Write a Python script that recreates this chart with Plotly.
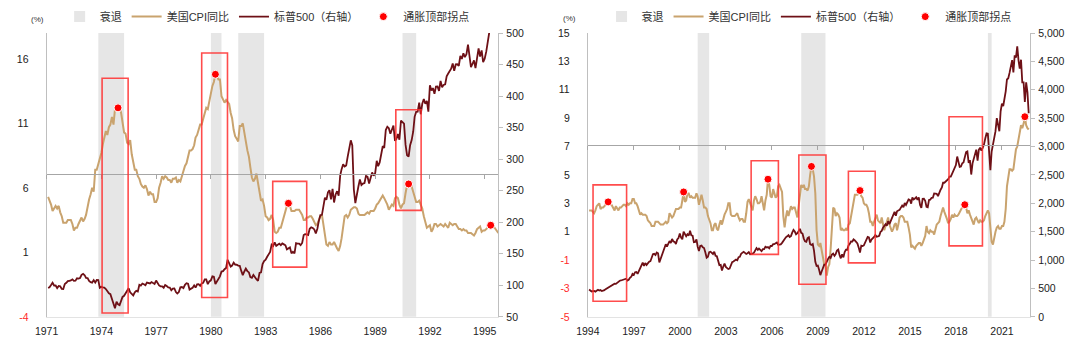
import pandas as pd
import plotly.graph_objects as go

# ---------------- DATA ----------------
# Left panel: monthly, Jan 1971 - Oct 1995
cpi_left = [
    5.3, 5.0, 4.7, 4.2, 4.4, 4.6, 4.4, 4.6, 4.1, 3.8, 3.3, 3.3,        # 1971
    3.3, 3.5, 3.5, 3.5, 3.2, 2.7, 2.9, 2.9, 3.2, 3.4, 3.7, 3.4,        # 1972
    3.6, 3.9, 4.6, 5.1, 5.5, 6.0, 5.7, 7.4, 7.4, 7.8, 8.3, 8.7,        # 1973
    9.4, 10.0, 10.4, 10.1, 10.7, 10.9, 11.5, 10.9, 12.1, 12.1, 12.2, 12.3,  # 1974
    11.8, 11.2, 10.3, 10.2, 9.5, 9.4, 9.7, 8.6, 7.9, 7.4, 7.4, 6.9,   # 1975
    6.7, 6.3, 6.1, 6.0, 6.2, 5.9, 5.4, 5.7, 5.5, 5.5, 4.9, 4.9,       # 1976
    5.2, 6.0, 6.4, 6.9, 6.7, 6.9, 6.8, 6.6, 6.6, 6.4, 6.7, 6.7,       # 1977
    6.8, 6.4, 6.6, 6.5, 6.9, 7.4, 7.7, 7.9, 8.3, 8.9, 8.9, 9.0,       # 1978
    9.3, 9.9, 10.1, 10.5, 10.9, 10.9, 11.3, 11.8, 12.2, 12.1, 12.6, 13.3,  # 1979
    13.9, 14.2, 14.8, 14.7, 14.4, 14.4, 13.1, 12.9, 12.6, 12.8, 12.6, 12.5,  # 1980
    11.8, 11.4, 10.5, 10.0, 9.8, 9.6, 10.8, 10.8, 11.0, 10.1, 9.6, 8.9,  # 1981
    8.4, 7.6, 6.8, 6.5, 6.7, 7.1, 6.4, 5.9, 5.0, 5.1, 4.6, 3.8,       # 1982
    3.7, 3.5, 3.6, 3.9, 3.5, 2.6, 2.5, 2.6, 2.9, 2.9, 3.3, 3.8,       # 1983
    4.2, 4.6, 4.8, 4.6, 4.2, 4.2, 4.2, 4.3, 4.3, 4.3, 4.1, 3.9,       # 1984
    3.5, 3.5, 3.7, 3.7, 3.8, 3.8, 3.6, 3.3, 3.1, 3.2, 3.5, 3.8,       # 1985
    3.9, 3.1, 2.2, 1.6, 1.5, 1.8, 1.6, 1.6, 1.8, 1.5, 1.3, 1.1,       # 1986
    1.5, 2.1, 3.0, 3.8, 3.9, 3.7, 3.9, 4.3, 4.4, 4.5, 4.5, 4.4,       # 1987
    4.0, 3.9, 3.9, 3.9, 3.9, 4.0, 4.1, 4.0, 4.2, 4.2, 4.2, 4.4,       # 1988
    4.7, 4.8, 5.0, 5.1, 5.4, 5.2, 5.0, 4.7, 4.3, 4.5, 4.7, 4.6,       # 1989
    5.2, 5.3, 5.2, 4.7, 4.4, 4.7, 4.8, 5.6, 6.2, 6.3, 6.3, 6.1,       # 1990
    5.7, 5.3, 4.9, 4.9, 5.0, 4.7, 4.4, 3.8, 3.4, 2.9, 3.0, 3.1,       # 1991
    2.6, 2.8, 3.2, 3.2, 3.0, 3.1, 3.2, 3.1, 3.0, 3.2, 3.0, 2.9,       # 1992
    3.3, 3.2, 3.1, 3.2, 3.2, 3.0, 2.8, 2.8, 2.7, 2.8, 2.7, 2.7,       # 1993
    2.5, 2.5, 2.5, 2.4, 2.3, 2.5, 2.8, 2.9, 3.0, 2.6, 2.7, 2.7,       # 1994
    2.8, 2.9, 2.9, 3.1, 3.2, 3.0, 2.8, 2.6, 2.5, 2.8,                 # 1995
]
spx_left = [
    95.9, 96.8, 100.3, 103.9, 99.6, 99.7, 95.6, 99.0, 98.3, 94.2, 94.0, 102.1,          # 1971
    103.9, 106.6, 107.2, 107.7, 109.5, 107.1, 107.4, 111.1, 110.6, 111.6, 116.7, 118.1,  # 1972
    116.0, 111.7, 111.5, 107.0, 105.0, 104.3, 108.2, 104.3, 108.4, 108.3, 96.0, 97.6,    # 1973
    96.6, 96.2, 94.0, 90.3, 87.3, 86.0, 79.3, 72.2, 63.5, 73.9, 70.0, 68.6,             # 1974
    77.0, 81.6, 83.4, 87.3, 91.2, 95.2, 88.8, 86.9, 83.9, 89.0, 91.2, 90.2,             # 1975
    100.9, 99.7, 102.8, 101.6, 100.2, 104.3, 103.4, 102.9, 105.2, 102.9, 102.1, 107.5,   # 1976
    102.0, 99.8, 98.4, 98.4, 96.1, 100.5, 98.9, 96.8, 96.5, 92.3, 94.8, 95.1,           # 1977
    89.3, 87.0, 89.2, 96.8, 97.2, 95.5, 100.7, 103.3, 102.5, 93.2, 94.7, 96.1,          # 1978
    99.9, 96.3, 101.6, 101.8, 99.1, 102.9, 103.8, 109.3, 109.3, 101.8, 106.2, 107.9,     # 1979
    114.2, 113.7, 102.1, 106.3, 111.2, 114.2, 121.7, 122.4, 125.5, 127.5, 140.5, 135.8,  # 1980
    129.6, 131.3, 136.0, 132.8, 132.6, 131.2, 130.9, 122.8, 116.2, 121.9, 126.4, 122.6,  # 1981
    120.4, 113.1, 112.0, 116.4, 111.9, 109.6, 107.1, 119.5, 120.4, 133.7, 138.5, 140.6,  # 1982
    145.3, 148.1, 153.0, 164.4, 162.4, 168.1, 162.6, 164.4, 166.1, 163.6, 166.4, 164.9,  # 1983
    163.4, 157.1, 159.2, 160.1, 150.6, 153.2, 150.7, 166.7, 166.1, 166.1, 163.6, 167.2,  # 1984
    179.6, 181.2, 180.7, 179.8, 189.6, 191.9, 190.9, 188.6, 182.1, 189.8, 202.2, 211.3,  # 1985
    211.8, 226.9, 238.9, 235.5, 247.4, 250.8, 236.1, 252.9, 231.3, 244.0, 249.2, 242.2,  # 1986
    274.1, 284.2, 291.7, 288.4, 290.1, 304.0, 318.7, 329.8, 321.8, 251.8, 230.3, 247.1,  # 1987
    257.1, 267.8, 258.9, 261.3, 262.2, 273.5, 272.0, 261.5, 271.9, 279.0, 273.7, 277.7,  # 1988
    297.5, 288.9, 294.9, 309.6, 320.5, 318.0, 346.1, 351.5, 349.2, 340.4, 346.0, 353.4,  # 1989
    329.1, 331.9, 339.9, 330.8, 361.2, 358.0, 356.2, 322.6, 306.1, 304.0, 322.2, 330.2,  # 1990
    343.9, 367.1, 375.2, 375.4, 389.8, 371.2, 387.8, 395.4, 387.9, 392.5, 375.2, 417.1,  # 1991
    408.8, 412.7, 403.7, 415.0, 415.4, 408.1, 424.2, 414.0, 417.8, 418.7, 431.4, 435.7,  # 1992
    438.8, 443.4, 451.7, 440.2, 450.2, 450.5, 448.1, 463.6, 458.9, 467.8, 461.8, 466.5,  # 1993
    481.6, 467.1, 445.8, 450.9, 456.5, 444.3, 458.3, 475.5, 462.7, 472.4, 453.7, 459.3,  # 1994
    470.4, 487.4, 500.7, 514.7, 533.4, 544.8, 562.1, 561.9, 584.4, 581.5,               # 1995
]

# Right panel: monthly, Jan 1994 - Sep 2022
cpi_right = [
    2.5, 2.5, 2.5, 2.4, 2.3, 2.5, 2.8, 2.9, 3.0, 2.6, 2.7, 2.7,   # 1994
    2.8, 2.9, 2.9, 3.1, 3.2, 3.0, 2.8, 2.6, 2.5, 2.8, 2.6, 2.5,   # 1995
    2.7, 2.7, 2.8, 2.9, 2.9, 2.8, 3.0, 2.9, 3.0, 3.0, 3.3, 3.3,   # 1996
    3.0, 3.0, 2.8, 2.5, 2.2, 2.3, 2.2, 2.2, 2.2, 2.1, 1.8, 1.7,   # 1997
    1.6, 1.4, 1.4, 1.4, 1.7, 1.7, 1.7, 1.6, 1.5, 1.5, 1.5, 1.6,   # 1998
    1.7, 1.6, 1.7, 2.3, 2.1, 2.0, 2.1, 2.3, 2.6, 2.6, 2.6, 2.7,   # 1999
    2.7, 3.2, 3.8, 3.1, 3.2, 3.7, 3.7, 3.4, 3.5, 3.4, 3.4, 3.4,   # 2000
    3.7, 3.5, 2.9, 3.3, 3.6, 3.2, 2.7, 2.7, 2.6, 2.1, 1.9, 1.6,   # 2001
    1.1, 1.1, 1.5, 1.6, 1.2, 1.1, 1.5, 1.8, 1.5, 2.0, 2.2, 2.4,   # 2002
    2.6, 3.0, 3.0, 2.2, 2.1, 2.1, 2.1, 2.2, 2.3, 2.0, 1.8, 1.9,   # 2003
    1.9, 1.7, 1.7, 2.3, 3.1, 3.3, 3.0, 2.7, 2.5, 3.2, 3.5, 3.3,   # 2004
    3.0, 3.0, 3.1, 3.5, 2.8, 2.5, 3.2, 3.6, 4.7, 4.3, 3.5, 3.4,   # 2005
    4.0, 3.6, 3.4, 3.5, 4.2, 4.3, 4.1, 3.8, 2.1, 1.3, 2.0, 2.5,   # 2006
    2.1, 2.4, 2.8, 2.6, 2.7, 2.7, 2.4, 2.0, 2.8, 3.5, 4.3, 4.1,   # 2007
    4.3, 4.0, 4.0, 3.9, 4.2, 5.0, 5.6, 5.4, 4.9, 3.7, 1.1, 0.1,   # 2008
    0.0, 0.2, -0.4, -0.7, -1.3, -1.4, -2.1, -1.5, -1.3, -0.2, 1.8, 2.7,  # 2009
    2.6, 2.1, 2.3, 2.2, 2.0, 1.1, 1.2, 1.1, 1.1, 1.2, 1.1, 1.5,   # 2010
    1.6, 2.1, 2.7, 3.2, 3.6, 3.6, 3.6, 3.8, 3.9, 3.5, 3.4, 3.0,   # 2011
    2.9, 2.9, 2.7, 2.3, 1.7, 1.7, 1.4, 1.7, 2.0, 2.2, 1.8, 1.7,   # 2012
    1.6, 2.0, 1.5, 1.1, 1.4, 1.8, 2.0, 1.5, 1.2, 1.0, 1.2, 1.5,   # 2013
    1.6, 1.1, 1.5, 2.0, 2.1, 2.1, 2.0, 1.7, 1.7, 1.7, 1.3, 0.8,   # 2014
    -0.1, 0.0, -0.1, -0.2, 0.0, 0.1, 0.2, 0.2, 0.0, 0.2, 0.5, 0.7,  # 2015
    1.4, 1.0, 0.9, 1.1, 1.0, 1.0, 0.8, 1.1, 1.5, 1.6, 1.7, 2.1,   # 2016
    2.5, 2.7, 2.4, 2.2, 1.9, 1.6, 1.7, 1.9, 2.2, 2.0, 2.2, 2.1,   # 2017
    2.1, 2.2, 2.4, 2.5, 2.8, 2.9, 2.9, 2.7, 2.3, 2.5, 2.2, 1.9,   # 2018
    1.6, 1.5, 1.9, 2.0, 1.8, 1.6, 1.8, 1.7, 1.7, 1.8, 2.1, 2.3,   # 2019
    2.5, 2.3, 1.5, 0.3, 0.1, 0.6, 1.0, 1.3, 1.4, 1.2, 1.2, 1.4,   # 2020
    1.4, 1.7, 2.6, 4.2, 5.0, 5.4, 5.4, 5.3, 5.4, 6.2, 6.8, 7.0,   # 2021
    7.5, 7.9, 8.5, 8.3, 8.6, 9.1, 8.5, 8.3, 8.2,                  # 2022
]
spx_right = [
    481.6, 467.1, 445.8, 450.9, 456.5, 444.3, 458.3, 475.5, 462.7, 472.4, 453.7, 459.3,      # 1994
    470.4, 487.4, 500.7, 514.7, 533.4, 544.8, 562.1, 561.9, 584.4, 581.5, 605.4, 615.9,      # 1995
    636.0, 640.4, 645.5, 654.2, 669.1, 670.6, 640.0, 652.0, 687.3, 705.3, 757.0, 740.7,      # 1996
    786.2, 790.8, 757.1, 801.3, 848.3, 885.1, 954.3, 899.5, 947.3, 914.6, 955.4, 970.4,      # 1997
    980.3, 1049.3, 1101.8, 1111.8, 1090.8, 1133.8, 1120.7, 957.3, 1017.0, 1098.7, 1163.6, 1229.2,  # 1998
    1279.6, 1238.3, 1286.4, 1335.2, 1301.8, 1372.7, 1328.7, 1320.4, 1282.7, 1362.9, 1388.9, 1469.3,  # 1999
    1394.5, 1366.4, 1498.6, 1452.4, 1420.6, 1454.6, 1430.8, 1517.7, 1436.5, 1429.4, 1315.0, 1320.3,  # 2000
    1366.0, 1239.9, 1160.3, 1249.5, 1255.8, 1224.4, 1211.2, 1133.6, 1040.9, 1059.8, 1139.5, 1148.1,  # 2001
    1130.2, 1106.7, 1147.4, 1076.9, 1067.1, 989.8, 911.6, 916.1, 815.3, 885.8, 936.3, 879.8,  # 2002
    855.7, 841.2, 849.2, 916.9, 963.6, 974.5, 990.3, 1008.0, 996.0, 1050.7, 1058.2, 1111.9,  # 2003
    1131.1, 1144.9, 1126.2, 1107.3, 1120.7, 1140.8, 1101.7, 1104.2, 1114.6, 1130.2, 1173.8, 1211.9,  # 2004
    1181.3, 1203.6, 1180.6, 1156.9, 1191.5, 1191.3, 1234.2, 1220.3, 1228.8, 1207.0, 1249.5, 1248.3,  # 2005
    1280.1, 1280.7, 1294.9, 1310.6, 1270.1, 1270.2, 1276.7, 1303.8, 1335.9, 1377.9, 1400.6, 1418.3,  # 2006
    1438.2, 1406.8, 1420.9, 1482.4, 1530.6, 1503.4, 1455.3, 1474.0, 1526.8, 1549.4, 1481.1, 1468.4,  # 2007
    1378.6, 1330.6, 1322.7, 1385.6, 1400.4, 1280.0, 1267.4, 1282.8, 1166.4, 968.8, 896.2, 903.3,  # 2008
    825.9, 735.1, 797.9, 872.8, 919.1, 919.3, 987.5, 1020.6, 1057.1, 1036.2, 1095.6, 1115.1,  # 2009
    1073.9, 1104.5, 1169.4, 1186.7, 1089.4, 1030.7, 1101.6, 1049.3, 1141.2, 1183.3, 1180.6, 1257.6,  # 2010
    1286.1, 1327.2, 1325.8, 1363.6, 1345.2, 1320.6, 1292.3, 1218.9, 1131.4, 1253.3, 1247.0, 1257.6,  # 2011
    1312.4, 1365.7, 1408.5, 1397.9, 1310.3, 1362.2, 1379.3, 1406.6, 1440.7, 1412.2, 1416.2, 1426.2,  # 2012
    1498.1, 1514.7, 1569.2, 1597.6, 1630.7, 1606.3, 1685.7, 1633.0, 1681.6, 1756.5, 1805.8, 1848.4,  # 2013
    1782.6, 1859.5, 1872.3, 1884.0, 1923.6, 1960.2, 1930.7, 2003.4, 1972.3, 2018.1, 2067.6, 2058.9,  # 2014
    1995.0, 2104.5, 2067.9, 2085.5, 2107.4, 2063.1, 2103.8, 1972.2, 1920.0, 2079.4, 2080.4, 2043.9,  # 2015
    1940.2, 1932.2, 2059.7, 2065.3, 2097.0, 2098.9, 2173.6, 2171.0, 2168.3, 2126.2, 2198.8, 2238.8,  # 2016
    2278.9, 2363.6, 2362.7, 2384.2, 2411.8, 2423.4, 2470.3, 2471.7, 2519.4, 2575.3, 2647.6, 2673.6,  # 2017
    2823.8, 2713.8, 2640.9, 2648.1, 2705.3, 2718.4, 2816.3, 2901.5, 2914.0, 2711.7, 2760.2, 2506.9,  # 2018
    2704.1, 2784.5, 2834.4, 2945.8, 2752.1, 2941.8, 2980.4, 2926.5, 2976.7, 3037.6, 3141.0, 3230.8,  # 2019
    3225.5, 2954.2, 2584.6, 2912.4, 3044.3, 3100.3, 3271.1, 3500.3, 3363.0, 3270.0, 3621.6, 3756.1,  # 2020
    3714.2, 3811.2, 3972.9, 4181.2, 4204.1, 4297.5, 4395.3, 4522.7, 4307.5, 4605.4, 4567.0, 4766.2,  # 2021
    4515.6, 4373.9, 4530.4, 4131.9, 4132.2, 3785.4, 4130.3, 3955.0, 3585.6,                  # 2022
]

# Inflation peak months (turning points)
peaks_left = ["1974-11", "1980-03", "1984-03", "1990-10", "1995-04"]
peaks_right = ["1995-04", "2000-03", "2005-09", "2008-07", "2011-09", "2018-07", "2022-06"]

# NBER recessions
rec_left_start = ["1973-11-01", "1980-01-01", "1981-07-01", "1990-07-01"]
rec_left_end = ["1975-03-31", "1980-07-31", "1982-11-30", "1991-03-31"]
rec_right_start = ["2001-03-01", "2007-12-01", "2020-02-01"]
rec_right_end = ["2001-11-30", "2009-06-30", "2020-04-30"]

# Highlight boxes (date span, CPI-axis span)
box_left_start = ["1974-01-15", "1979-07-01", "1983-05-22", "1990-02-17"]
box_left_end = ["1975-06-20", "1980-11-28", "1985-04-01", "1991-07-08"]
box_left_low = [-3.7, -2.5, -0.15, 4.25]
box_left_high = [14.5, 16.45, 6.5, 12.05]
box_right_start = ["1994-05-05", "2004-08-25", "2007-10-05", "2010-12-28", "2017-07-20"]
box_right_end = ["1996-07-12", "2006-06-05", "2009-07-12", "2012-09-27", "2019-09-24"]
box_right_low = [-3.9, -0.6, -2.7, -1.2, 0.0]
box_right_high = [4.3, 6.0, 6.4, 5.26, 9.1]

left_ticks = [-4, 1, 6, 11, 16]
right_ticks = [-5, -3, -1, 1, 3, 5, 7, 9, 11, 13, 15]
ref_level = 7.1  # level of the horizontal axis line

# ---------------- STYLE ----------------
FONT = "Liberation Sans, Arial, Noto Sans CJK SC, sans-serif"
CPI_C = "#c9a36e"
SPX_C = "#6e1016"
DOT_C = "#ff0000"
BOX_C = "rgba(255,45,45,0.85)"
REC_C = "#e6e6e6"
AX_C = "#bfbfbf"
NEG_C = "#ff2a2a"


def month_ends(start_year, n):
    out = []
    for i in range(n):
        y = start_year + i // 12
        m = i % 12 + 1
        out.append((pd.Timestamp(y, m, 1) + pd.offsets.MonthEnd(0)).strftime("%Y-%m-%d"))
    return out


def ticktext(vals):
    return [f'<span style="color:{NEG_C}">{v}</span>' if v < 0 else str(v) for v in vals]


dates_left = month_ends(1971, len(cpi_left))
dates_right = month_ends(1994, len(cpi_right))


def peak_points(dates, series, months):
    xs, ys = [], []
    for mth in months:
        for d, v in zip(dates, series):
            if d.startswith(mth):
                xs.append(d)
                ys.append(v)
    return xs, ys


fig = go.Figure()

panels = [
    dict(dates=dates_left, cpi=cpi_left, spx=spx_left, peaks=peaks_left,
         xa="x", ya="y", ya2="y2", xref_axis="x3", legend="legend"),
    dict(dates=dates_right, cpi=cpi_right, spx=spx_right, peaks=peaks_right,
         xa="x2", ya="y3", ya2="y4", xref_axis="x4", legend="legend2"),
]

for p in panels:
    # legend-only recession patch
    fig.add_trace(go.Scatter(x=[None], y=[None], mode="markers", name="衰退",
                             marker=dict(symbol="square", size=11, color=REC_C),
                             xaxis=p["xa"], yaxis=p["ya"], legend=p["legend"]))
    fig.add_trace(go.Scatter(x=p["dates"], y=p["cpi"], mode="lines", name="美国CPI同比",
                             line=dict(color=CPI_C, width=2),
                             xaxis=p["xa"], yaxis=p["ya"], legend=p["legend"]))
    fig.add_trace(go.Scatter(x=p["dates"], y=p["spx"], mode="lines", name="标普500（右轴）",
                             line=dict(color=SPX_C, width=1.8),
                             xaxis=p["xa"], yaxis=p["ya2"], legend=p["legend"]))
    px_, py_ = peak_points(p["dates"], p["cpi"], p["peaks"])
    fig.add_trace(go.Scatter(x=px_, y=py_, mode="markers", name="通胀顶部拐点",
                             marker=dict(color=DOT_C, size=8, line=dict(color="white", width=1)),
                             xaxis=p["xa"], yaxis=p["ya"], legend=p["legend"]))
    # invisible trace so the mid-level reference axis is drawn
    fig.add_trace(go.Scatter(x=[p["dates"][0]], y=[ref_level], mode="markers",
                             marker=dict(opacity=0), showlegend=False, hoverinfo="skip",
                             xaxis=p["xref_axis"], yaxis=p["ya"]))

shapes = []
for s, e in zip(rec_left_start, rec_left_end):
    shapes.append(dict(type="rect", xref="x", yref="y domain", x0=s, x1=e, y0=0, y1=1,
                       fillcolor=REC_C, line=dict(width=0), layer="below"))
for s, e in zip(rec_right_start, rec_right_end):
    shapes.append(dict(type="rect", xref="x2", yref="y3 domain", x0=s, x1=e, y0=0, y1=1,
                       fillcolor=REC_C, line=dict(width=0), layer="below"))
for s, e, lo, hi in zip(box_left_start, box_left_end, box_left_low, box_left_high):
    shapes.append(dict(type="rect", xref="x", yref="y", x0=s, x1=e, y0=lo, y1=hi,
                       line=dict(color=BOX_C, width=1.6), fillcolor="rgba(0,0,0,0)"))
for s, e, lo, hi in zip(box_right_start, box_right_end, box_right_low, box_right_high):
    shapes.append(dict(type="rect", xref="x2", yref="y3", x0=s, x1=e, y0=lo, y1=hi,
                       line=dict(color=BOX_C, width=1.6), fillcolor="rgba(0,0,0,0)"))

# ---------------- LAYOUT ----------------
W, H = 1080, 346
ydom = [24 / H, 318 / H]
xdom_l = [35 / W, 491.7 / W]
xdom_r = [582.3 / W, 1029.5 / W]
yr_l = [-4, 18]
yr_r = [-5, 15]
xr_l = ["1971-01-01", "1995-09-28"]
xr_r = ["1994-01-01", "2022-11-01"]


def ref_pos(yr):
    return ydom[0] + (ref_level - yr[0]) / (yr[1] - yr[0]) * (ydom[1] - ydom[0])


tickfont = dict(family=FONT, size=10.5, color="#222")

xbase = dict(type="date", tickformat="%Y", dtick="M36", showgrid=False, zeroline=False,
             showline=True, linecolor="#e3e3e3", linewidth=1, ticks="", tickfont=tickfont,
             ticklabelstandoff=5)
xref_ax = dict(type="date", dtick="M36", showgrid=False, zeroline=False, showline=True,
               linecolor="#a6a6a6", linewidth=1, ticks="outside", ticklen=4,
               tickcolor="#a6a6a6", showticklabels=False, anchor="free")
yleft = dict(showgrid=False, zeroline=False, showline=True, linecolor=AX_C, linewidth=1,
             ticks="", tickfont=tickfont, ticklabelstandoff=15)
yright = dict(showgrid=False, zeroline=False, showline=True, linecolor=AX_C, linewidth=1,
              ticks="outside", ticklen=4, tickcolor=AX_C, tickfont=tickfont,
              side="right", ticklabelstandoff=1)

legend_common = dict(orientation="h", yanchor="middle", y=(H - 11) / H, xanchor="center",
                     font=dict(family=FONT, size=11, color="#333"),
                     bgcolor="rgba(0,0,0,0)", itemwidth=30, tracegroupgap=0)

fig.update_layout(
    width=W, height=H, autosize=False,
    margin=dict(l=0, r=0, t=0, b=0),
    paper_bgcolor="white", plot_bgcolor="rgba(0,0,0,0)",
    font=dict(family=FONT, size=11, color="#222"),
    showlegend=True,
    legend=dict(legend_common, x=258 / W),
    legend2=dict(legend_common, x=806 / W),
    xaxis=dict(xbase, domain=xdom_l, range=xr_l, tick0="1971-01-01", anchor="y"),
    xaxis2=dict(xbase, domain=xdom_r, range=xr_r, tick0="1994-01-01", anchor="y3"),
    xaxis3=dict(xref_ax, overlaying="x", domain=xdom_l, range=xr_l, tick0="1971-01-01",
                position=ref_pos(yr_l)),
    xaxis4=dict(xref_ax, overlaying="x2", domain=xdom_r, range=xr_r, tick0="1994-01-01",
                position=ref_pos(yr_r)),
    yaxis=dict(yleft, domain=ydom, range=yr_l, tickvals=left_ticks,
               ticktext=ticktext(left_ticks), anchor="x"),
    yaxis2=dict(yright, domain=ydom, range=[50, 500], tick0=50, dtick=50,
                overlaying="y", anchor="x"),
    yaxis3=dict(yleft, domain=ydom, range=yr_r, tickvals=right_ticks,
                ticktext=ticktext(right_ticks), anchor="x2"),
    yaxis4=dict(yright, domain=ydom, range=[0, 5000], tick0=0, dtick=500, tickformat=",d",
                overlaying="y3", anchor="x2"),
    shapes=shapes,
    annotations=[
        dict(text="(%)", xref="paper", yref="paper", x=17 / W, y=(H - 7) / H,
             showarrow=False, font=dict(family=FONT, size=8, color="#333")),
        dict(text="(%)", xref="paper", yref="paper", x=564 / W, y=(H - 6) / H,
             showarrow=False, font=dict(family=FONT, size=8, color="#333")),
    ],
)

fig.write_html("out.html")
